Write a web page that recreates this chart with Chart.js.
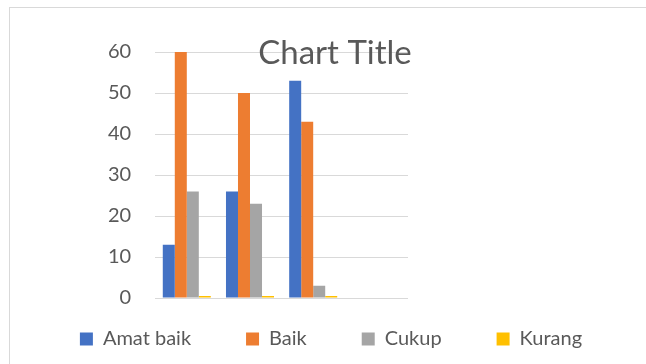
<!DOCTYPE html>
<html>
<head>
<meta charset="utf-8">
<script src="https://cdn.jsdelivr.net/npm/chart.js@4"></script>
<style>
  body { margin: 0; background: #fff; }
  #wrap { position: relative; width: 646px; height: 364px; overflow: hidden; }
  #frame { position: absolute; left: 9px; top: 7px; width: 700px; height: 400px; border: 1px solid #d9d9d9; pointer-events: none; }
  canvas { position: absolute; left: 0; top: 0; }
</style>
</head>
<body>
<div id="wrap">
  <canvas id="chart" width="646" height="364"></canvas>
  <div id="frame"></div>
</div>
<script>
// categories (the 4th one is empty in the source sheet)
const categories = ['1', '2', '3', '4'];
const amatBaik = [13, 26, 53, null];
const baik = [60, 50, 43, null];
const cukup = [26, 23, 3, null];
const kurang = [0, 0, 0, null];
const yTicks = [0, 10, 20, 30, 40, 50, 60];
const chartTitle = 'Chart Title';

const textColor = '#595959';

// draws the title over the plot like Excel does
const overlayTitle = {
    id: 'overlayTitle',
    afterDraw(chart) {
        const ctx = chart.ctx;
        ctx.save();
        ctx.font = '33px Lato';
        ctx.fillStyle = textColor;
        ctx.textAlign = 'center';
        ctx.textBaseline = 'middle';
        ctx.fillText(chartTitle, 335, 53);
        ctx.restore();
    }
};

// legend uses the full canvas width and starts higher than its slot
const legendFit = {
    id: 'legendFit',
    beforeInit(chart) {
        const fit = chart.legend.fit;
        chart.legend.fit = function () {
            this.maxWidth = 646;
            fit.bind(chart.legend)();
            this.height = 66;
        };
    },
    afterLayout(chart) {
        const lg = chart.legend;
        lg.left = 8;
        lg.right = 654;
        lg.width = 646;
        lg.top -= 24;
        lg.bottom = 364;
        lg.height = lg.bottom - lg.top;
    }
};

new Chart(document.getElementById('chart').getContext('2d'), {
    type: 'bar',
    data: {
        labels: categories,
        datasets: [
            { label: 'Amat baik', data: amatBaik, backgroundColor: '#4472C4' },
            { label: 'Baik', data: baik, backgroundColor: '#ED7D31' },
            { label: 'Cukup', data: cukup, backgroundColor: '#A5A5A5' },
            { label: 'Kurang', data: kurang, backgroundColor: '#FFC000', minBarLength: 2 }
        ]
    },
    options: {
        responsive: false,
        animation: false,
        layout: { padding: { top: 52, left: 84, right: 238, bottom: 0 } },
        datasets: { bar: { categoryPercentage: 0.76, barPercentage: 1 } },
        scales: {
            x: { display: false },
            y: {
                min: 0,
                max: 60,
                afterBuildTicks(axis) { axis.ticks = yTicks.map(v => ({ value: v })); },
                ticks: { color: textColor, font: { family: 'Lato', size: 20 }, padding: 24 },
                grid: { color: '#d9d9d9', drawTicks: false },
                border: { display: false }
            }
        },
        plugins: {
            title: { display: false },
            tooltip: { enabled: false },
            legend: {
                position: 'bottom',
                labels: {
                    color: textColor,
                    font: { family: 'Lato', size: 20 },
                    boxWidth: 13,
                    boxHeight: 13,
                    padding: 55
                }
            }
        }
    },
    plugins: [overlayTitle, legendFit]
});
</script>
</body>
</html>
